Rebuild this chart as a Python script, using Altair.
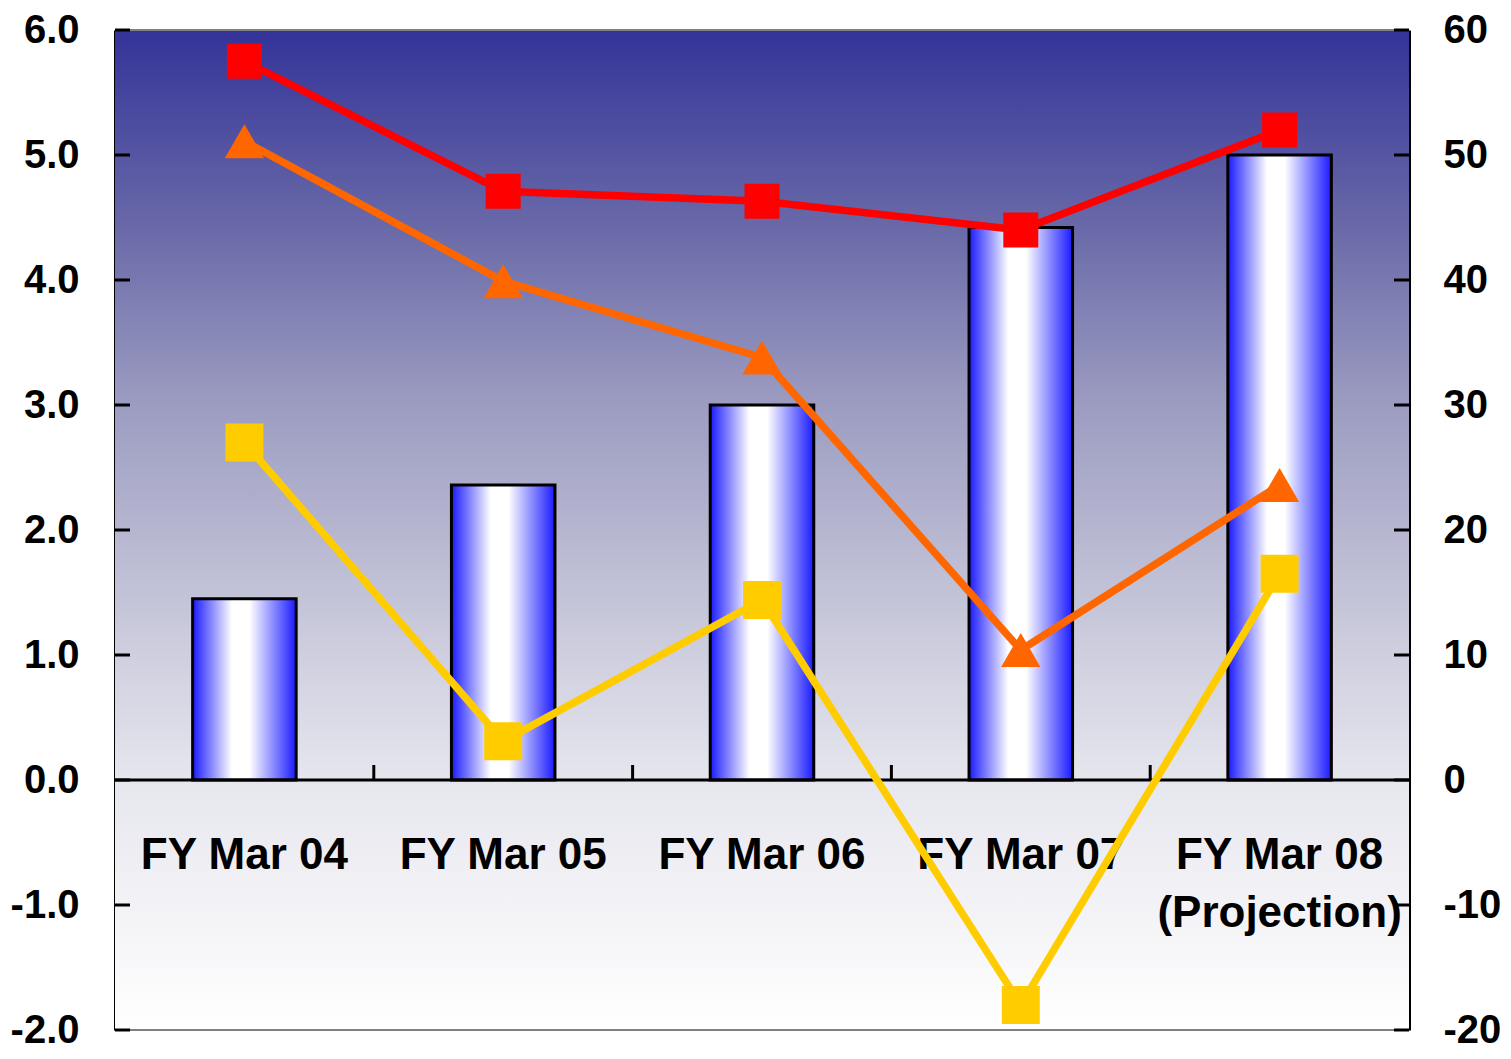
import altair as alt
import pandas as pd

categories = ["FY Mar 04", "FY Mar 05", "FY Mar 06", "FY Mar 07", "FY Mar 08\n(Projection)"]
bar_values = [1.45, 2.36, 3.0, 4.42, 5.0]          # left axis
red_values = [57.5, 47.1, 46.3, 44.0, 52.0]        # right axis
orange_values = [51.1, 39.9, 33.8, 10.4, 23.6]     # right axis
yellow_values = [27.0, 3.1, 14.4, -18.0, 16.5]     # right axis
left_ticks = [-2, -1, 0, 1, 2, 3, 4, 5, 6]
right_ticks = [-20, -10, 0, 10, 20, 30, 40, 50, 60]

W, H = 1294, 1000
FONT = "Liberation Sans"

df = pd.DataFrame({"cat": categories, "bar": bar_values, "red": red_values,
                   "orange": orange_values, "yellow": yellow_values,
                   "lab_y": [-0.43] * 5})

xs = alt.X("cat:N", sort=categories, axis=None,
           scale=alt.Scale(paddingInner=0, paddingOuter=0))
left_scale = alt.Scale(domain=[-2, 6], nice=False, zero=False)
right_scale = alt.Scale(domain=[-20, 60], nice=False, zero=False)

bg_grad = {"gradient": "linear", "x1": 0, "y1": 0, "x2": 0, "y2": 1,
           "stops": [{"offset": 0, "color": "#333399"},
                     {"offset": 0.2, "color": "#6a6aa9"},
                     {"offset": 0.37, "color": "#9b9bc1"},
                     {"offset": 0.6, "color": "#cacadc"},
                     {"offset": 0.75, "color": "#e6e6ee"},
                     {"offset": 1, "color": "#ffffff"}]}
bar_grad = {"gradient": "linear", "x1": 0, "y1": 0, "x2": 1, "y2": 0,
            "stops": [{"offset": 0, "color": "#1a1aff"},
                      {"offset": 0.38, "color": "#ffffff"},
                      {"offset": 0.55, "color": "#ffffff"},
                      {"offset": 1, "color": "#1a1aff"}]}

one = pd.DataFrame({"a": [0]})
bg = alt.Chart(one).mark_rect(fill=bg_grad, stroke=None).encode(
    x=alt.value(0), x2=alt.value(W), y=alt.value(0), y2=alt.value(H))

bars = alt.Chart(df).mark_bar(fill=bar_grad, stroke="black", strokeWidth=3,
                              width=alt.RelativeBandSize(0.4)).encode(
    x=xs,
    y=alt.Y("bar:Q", scale=left_scale,
            axis=alt.Axis(values=left_ticks, labelExpr="datum.value + '.0'",
                          ticks=False, grid=False,
                          labelPadding=36, labelFont=FONT, labelFontWeight="bold",
                          labelFontSize=40, labelColor="black", labelFlush=False,
                          domainColor="black", domainWidth=3, title=None)),
)

labels = alt.Chart(df).mark_text(font=FONT, fontWeight="bold", fontSize=44,
                                 color="black", baseline="top", align="center",
                                 lineBreak="\n", lineHeight=58).encode(
    x=xs, y=alt.Y("lab_y:Q", scale=left_scale), text="cat:N")

zero_df = pd.DataFrame({"z": [0]})
zero_line = alt.Chart(zero_df).mark_rule(color="black", strokeWidth=3).encode(
    y=alt.Y("z:Q", scale=left_scale), x=alt.value(0), x2=alt.value(W))

lt_df = pd.DataFrame({"t": left_ticks})
left_tick_marks = alt.Chart(lt_df).mark_rule(color="black", strokeWidth=3).encode(
    y=alt.Y("t:Q", scale=left_scale), x=alt.value(0), x2=alt.value(15))

xt_df = pd.DataFrame({"cat": categories[1:], "z0": [0.0] * 4, "z1": [0.12] * 4})
x_ticks = alt.Chart(xt_df).mark_rule(color="black", strokeWidth=3).encode(
    x=alt.X("cat:N", sort=categories, axis=None, bandPosition=0,
            scale=alt.Scale(paddingInner=0, paddingOuter=0)),
    y=alt.Y("z0:Q", scale=left_scale), y2="z1:Q")

border_df = pd.DataFrame({"b": [-2, 6]})
borders = alt.Chart(border_df).mark_rule(color="#808080", strokeWidth=2).encode(
    y=alt.Y("b:Q", scale=left_scale), x=alt.value(0), x2=alt.value(W))

left_layer = alt.layer(bg, borders, bars, labels, zero_line, left_tick_marks, x_ticks)

rt_df = pd.DataFrame({"t": right_ticks})
right_axis = alt.Chart(rt_df).mark_rule(color="black", strokeWidth=3).encode(
    y=alt.Y("t:Q", scale=right_scale,
            axis=alt.Axis(orient="right", values=right_ticks,
                          labelExpr="'' + datum.value", ticks=False,
                          grid=False, labelPadding=34, labelFont=FONT,
                          labelFontWeight="bold", labelFontSize=40, labelColor="black",
                          labelFlush=False, domainColor="black", domainWidth=3,
                          title=None)),
    x=alt.value(W - 15), x2=alt.value(W))


def series(field, color, shape, size):
    base = alt.Chart(df).encode(x=xs, y=alt.Y(f"{field}:Q", scale=right_scale))
    line = base.mark_line(color=color, strokeWidth=7.5)
    pts = base.mark_point(shape=shape, filled=True, color=color, size=size, opacity=1)
    return line + pts


right_layer = alt.layer(
    right_axis,
    series("yellow", "#ffcc00", "square", 1440),
    series("orange", "#ff6600", "triangle-up", 1550),
    series("red", "#ff0000", "square", 1225),
)

chart = alt.layer(left_layer, right_layer).resolve_scale(y="independent").properties(
    width=W, height=H,
    autosize=alt.AutoSizeParams(type="none"),
    padding={"left": 107, "top": 22, "right": 94, "bottom": 21},
).configure_view(stroke=None)

chart.save("out.html", embed_options={"renderer": "svg", "actions": False})
